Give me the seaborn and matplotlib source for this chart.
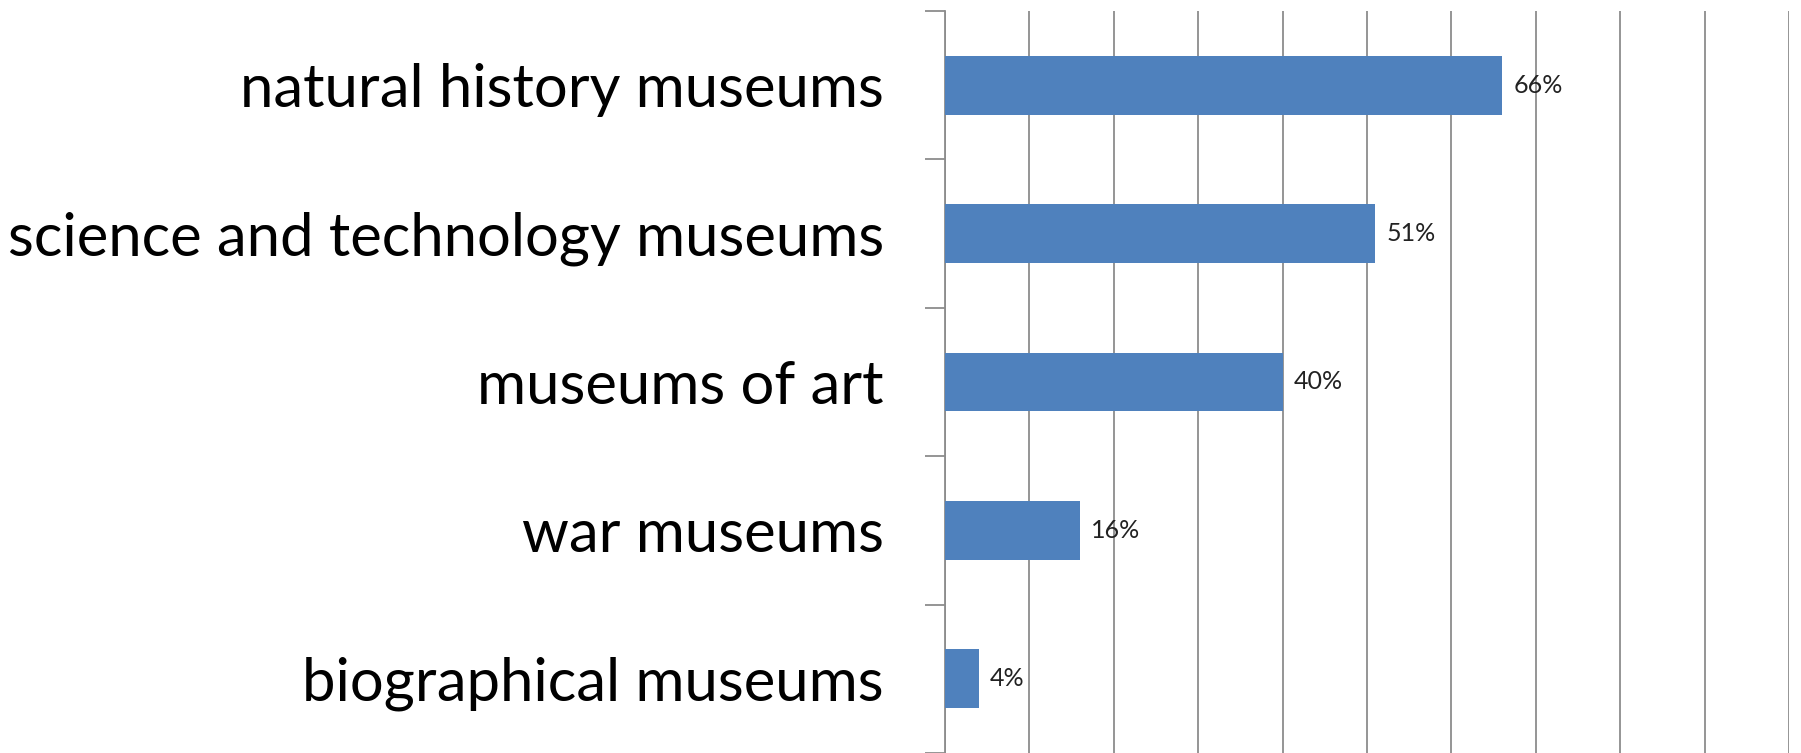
import matplotlib
matplotlib.use("Agg")
import matplotlib.pyplot as plt
import seaborn as sns
import pandas as pd
from matplotlib.ticker import MultipleLocator, FixedLocator

categories = ["natural history museums", "science and technology museums",
              "museums of art", "war museums", "biographical museums"]
values = [66, 51, 40, 16, 4]
value_labels = ["66%", "51%", "40%", "16%", "4%"]

sns.set_theme(style="white")
plt.rcParams['font.family'] = ['Lato', 'DejaVu Sans']

df = pd.DataFrame({"category": categories, "value": values})

fig = plt.figure(figsize=(18.01, 7.53), dpi=100)
ax = fig.add_axes([945/1801, 0.0, (1789-945)/1801, 1 - 11/753])

sns.barplot(data=df, x="value", y="category", order=categories, orient="h",
            color="#4F81BD", width=0.395, saturation=1, linewidth=0,
            ax=ax, zorder=3)

ax.set_xlim(0, 100)
ax.set_ylim(4.5, -0.5)
ax.set_xlabel("")
ax.set_ylabel("")

ax.xaxis.set_major_locator(MultipleLocator(10))
ax.grid(axis="x", color="#8c8c8c", linewidth=1.3, zorder=0)
ax.grid(axis="y", visible=False)
ax.tick_params(axis="x", bottom=False, labelbottom=False)

ax.yaxis.set_minor_locator(FixedLocator([-0.5, 0.5, 1.5, 2.5, 3.5, 4.5]))
ax.tick_params(axis="y", which="major", length=0, pad=44, labelsize=43, labelcolor="black")
ax.tick_params(axis="y", which="minor", left=True, length=14.5, width=1.3, color="#8c8c8c")

for side in ["top", "right", "bottom"]:
    ax.spines[side].set_visible(False)
ax.spines["left"].set_color("#8c8c8c")
ax.spines["left"].set_linewidth(1.3)

ax.bar_label(ax.containers[0], labels=value_labels, padding=8, fontsize=18, color="#222222")

fig.savefig("out.png", dpi=100)
